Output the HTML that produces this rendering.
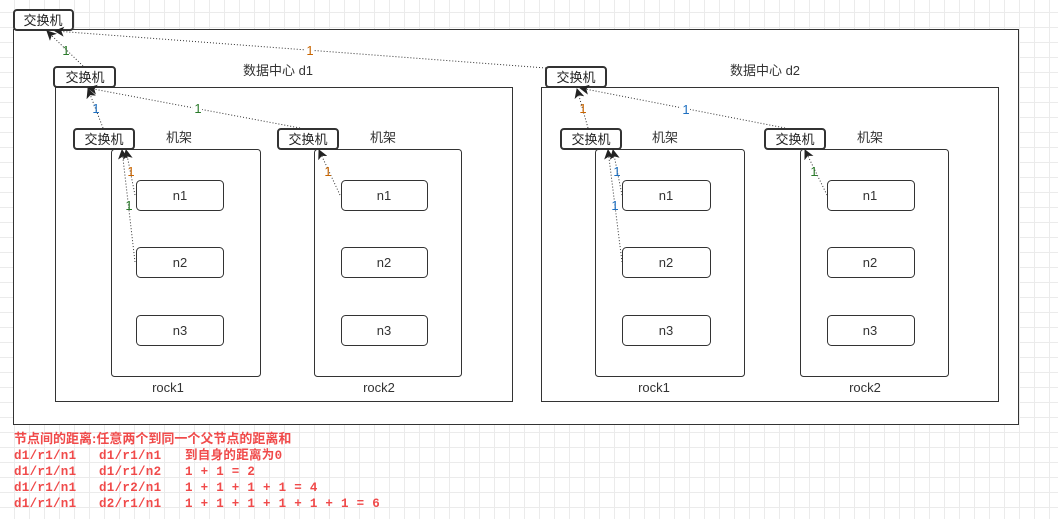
<!DOCTYPE html>
<html><head><meta charset="utf-8"><style>
html,body{margin:0;padding:0;}
body{width:1058px;height:519px;overflow:hidden;background-color:#fff;
background-image:linear-gradient(#ebebeb 1px,transparent 1px),linear-gradient(90deg,#ebebeb 1px,transparent 1px);
background-size:15px 15px;background-position:14px 12px;
font-family:"Liberation Sans","Noto Sans CJK SC",sans-serif;position:relative;}
svg{position:absolute;left:0;top:0;}
.t{position:absolute;font-family:"Liberation Mono","Noto Sans CJK SC",monospace;color:#f04a4a;font-size:12.5px;font-weight:bold;white-space:pre;line-height:16px;letter-spacing:0.3px;}
</style></head><body>
<svg width="1058" height="519" viewBox="0 0 1058 519" font-family="Liberation Sans, Noto Sans CJK SC, sans-serif">
<defs><marker id="a" markerWidth="10" markerHeight="10" refX="9" refY="5" orient="auto" markerUnits="userSpaceOnUse"><path d="M0,0 L10,5 L0,10 L2.5,5 Z" fill="#222"/></marker></defs>
<g fill="#fff" stroke="#333" stroke-width="1">
<rect x="13.5" y="29.5" width="1005" height="395"/>
<rect x="55.5" y="87.5" width="457" height="314"/>
<rect x="541.5" y="87.5" width="457" height="314"/>
<rect x="111.5" y="149.5" width="149" height="227" rx="3"/>
<rect x="314.5" y="149.5" width="147" height="227" rx="3"/>
<rect x="595.5" y="149.5" width="149" height="227" rx="3"/>
<rect x="800.5" y="149.5" width="148" height="227" rx="3"/>
<rect x="136.5" y="180.5" width="87" height="30" rx="4"/><rect x="136.5" y="247.5" width="87" height="30" rx="4"/><rect x="136.5" y="315.5" width="87" height="30" rx="4"/>
<rect x="341.5" y="180.5" width="86" height="30" rx="4"/><rect x="341.5" y="247.5" width="86" height="30" rx="4"/><rect x="341.5" y="315.5" width="86" height="30" rx="4"/>
<rect x="622.5" y="180.5" width="88" height="30" rx="4"/><rect x="622.5" y="247.5" width="88" height="30" rx="4"/><rect x="622.5" y="315.5" width="88" height="30" rx="4"/>
<rect x="827.5" y="180.5" width="87" height="30" rx="4"/><rect x="827.5" y="247.5" width="87" height="30" rx="4"/><rect x="827.5" y="315.5" width="87" height="30" rx="4"/>
</g>
<g fill="#fff" stroke="#333" stroke-width="2">
<rect x="14" y="10" width="59" height="20" rx="3"/>
<rect x="54" y="67" width="61" height="20" rx="3"/>
<rect x="74" y="129" width="60" height="20" rx="3"/>
<rect x="278" y="129" width="60" height="20" rx="3"/>
<rect x="546" y="67" width="60" height="20" rx="3"/>
<rect x="561" y="129" width="60" height="20" rx="3"/>
<rect x="765" y="129" width="60" height="20" rx="3"/>
</g>
<g stroke="#333" stroke-width="1" stroke-dasharray="1,2" fill="none" marker-end="url(#a)">
<path d="M546,68 L55,31"/>
<path d="M83,66 L47,31"/>
<path d="M300,128 L88,88"/>
<path d="M103,128 L88,89"/>
<path d="M135,195 L126,150"/>
<path d="M135,262 L122,150"/>
<path d="M340,195 L319,150"/>
<path d="M785,128 L580,88"/>
<path d="M588,128 L577,89"/>
<path d="M622,195 L613,150"/>
<path d="M622,262 L608,150"/>
<path d="M827,195 L805,150"/>
</g>
<g font-size="13" text-anchor="middle">
<g fill="#222"><text x="43" y="25">交换机</text><text x="85" y="82">交换机</text><text x="104" y="144">交换机</text><text x="308" y="144">交换机</text><text x="576" y="82">交换机</text><text x="591" y="144">交换机</text><text x="795" y="144">交换机</text></g>
<g fill="#333"><text x="278" y="75">数据中心 d1</text><text x="765" y="75">数据中心 d2</text>
<text x="179" y="142">机架</text><text x="383" y="142">机架</text><text x="665" y="142">机架</text><text x="870" y="142">机架</text>
<text x="168" y="392">rock1</text><text x="379" y="392">rock2</text><text x="654" y="392">rock1</text><text x="865" y="392">rock2</text>
<text x="180" y="200">n1</text><text x="180" y="267">n2</text><text x="180" y="335">n3</text>
<text x="384" y="200">n1</text><text x="384" y="267">n2</text><text x="384" y="335">n3</text>
<text x="666" y="200">n1</text><text x="666" y="267">n2</text><text x="666" y="335">n3</text>
<text x="870" y="200">n1</text><text x="870" y="267">n2</text><text x="870" y="335">n3</text></g>
<g>
<rect x="305" y="43" width="9" height="13" fill="#fff"/><text x="310" y="55" fill="#c86400">1</text>
<text x="66" y="55" fill="#2a7a2a">1</text>
<text x="96" y="113" fill="#1e6fc0">1</text>
<rect x="193" y="101" width="9" height="13" fill="#fff"/><text x="198" y="113" fill="#2a7a2a">1</text>
<text x="131" y="176" fill="#c86400">1</text>
<text x="129" y="210" fill="#2a7a2a">1</text>
<text x="328" y="176" fill="#c86400">1</text>
<text x="583" y="113" fill="#c86400">1</text>
<rect x="681" y="102" width="9" height="13" fill="#fff"/><text x="686" y="114" fill="#1e6fc0">1</text>
<text x="617" y="176" fill="#1e6fc0">1</text>
<text x="615" y="210" fill="#1e6fc0">1</text>
<text x="814" y="176" fill="#2a7a2a">1</text>
</g>
</g>
</svg>
<div class="t" style="left:14px;top:431px;font-family:'Liberation Sans','Noto Sans CJK SC',sans-serif;font-size:13px;letter-spacing:0;">节点间的距离:任意两个到同一个父节点的距离和</div>
<div class="t" style="left:14px;top:448px;">d1/r1/n1
d1/r1/n1
d1/r1/n1
d1/r1/n1</div>
<div class="t" style="left:99px;top:448px;">d1/r1/n1
d1/r1/n2
d1/r2/n1
d2/r1/n1</div>
<div class="t" style="left:185px;top:448px;">到自身的距离为0
1 + 1 = 2
1 + 1 + 1 + 1 = 4
1 + 1 + 1 + 1 + 1 + 1 = 6</div>
</body></html>
